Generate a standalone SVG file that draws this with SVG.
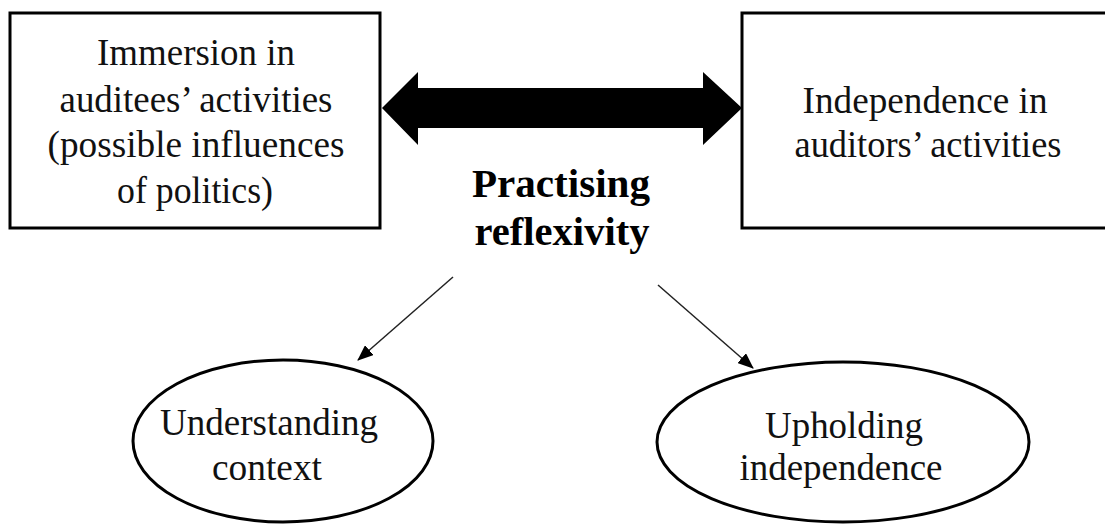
<svg xmlns="http://www.w3.org/2000/svg" width="1105" height="525" viewBox="0 0 1105 525">
<style>
.box{fill:#fff;stroke:#000;stroke-width:3}
.ell{fill:#fff;stroke:#000;stroke-width:3}
.t{font-family:"Liberation Serif","Times New Roman",serif;font-size:37px;fill:#111;text-anchor:middle}
.e{font-family:"Liberation Serif","Times New Roman",serif;font-size:38px;fill:#111;text-anchor:middle}
.b{font-family:"Liberation Serif","Times New Roman",serif;font-size:39px;font-weight:bold;fill:#000;text-anchor:middle}
.thin{stroke:#222;stroke-width:1.5;fill:none;marker-end:url(#ah)}
</style>
<defs>
<marker id="ah" markerWidth="16" markerHeight="13" refX="15" refY="6.5" orient="auto" markerUnits="userSpaceOnUse">
<path d="M0,0 L16,6.5 L0,13 Z" fill="#000"/>
</marker>
</defs>
<rect width="1105" height="525" fill="#fff"/>
<g id="node-immersion">
<rect class="box" x="10" y="13" width="370" height="215"/>
<text class="t" x="196" y="65" textLength="198" lengthAdjust="spacingAndGlyphs">Immersion in</text>
<text class="t" x="196" y="112" textLength="273" lengthAdjust="spacingAndGlyphs">auditees’ activities</text>
<text class="t" x="196" y="157" textLength="297" lengthAdjust="spacingAndGlyphs">(possible influences</text>
<text class="t" x="195" y="203" textLength="156" lengthAdjust="spacingAndGlyphs">of politics)</text>
</g>
<g id="node-independence">
<rect class="box" x="742" y="13" width="380" height="215"/>
<text class="t" x="925" y="113" textLength="245" lengthAdjust="spacingAndGlyphs">Independence in</text>
<text class="t" x="928" y="157" textLength="267" lengthAdjust="spacingAndGlyphs">auditors’ activities</text>
</g>
<g id="node-reflexivity">
<text class="b" x="561" y="197" textLength="178" lengthAdjust="spacingAndGlyphs">Practising</text>
<text class="b" x="562" y="245" textLength="175" lengthAdjust="spacingAndGlyphs">reflexivity</text>
</g>
<g id="node-context">
<ellipse class="ell" cx="283" cy="441" rx="150" ry="81"/>
<text class="e" x="269" y="435" textLength="218" lengthAdjust="spacingAndGlyphs">Understanding</text>
<text class="e" x="267" y="480" textLength="110" lengthAdjust="spacingAndGlyphs">context</text>
</g>
<g id="node-upholding">
<ellipse class="ell" cx="843" cy="442" rx="186" ry="80"/>
<text class="e" x="844" y="438" textLength="158" lengthAdjust="spacingAndGlyphs">Upholding</text>
<text class="e" x="841" y="480" textLength="203" lengthAdjust="spacingAndGlyphs">independence</text>
</g>
<g id="connectors">
<polygon points="382,108 418,72 418,88 703,88 703,72 742,108 703,145 703,128 418,128 418,145" fill="#000"/>
<line class="thin" x1="453" y1="277" x2="358" y2="360"/>
<line class="thin" x1="658" y1="285" x2="753" y2="368"/>
</g>
</svg>
